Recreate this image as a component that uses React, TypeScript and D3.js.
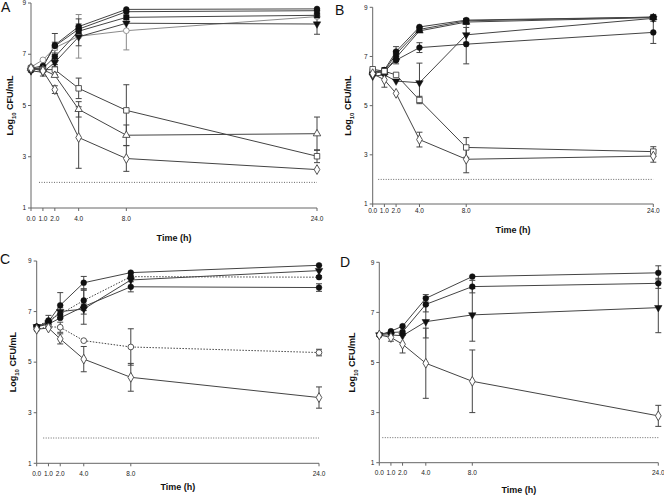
import React from "react";
import * as d3 from "d3";

// ---------- shared data ----------
const TIMES = [0, 1, 2, 4, 8, 24];
const TIME_LABELS = ["0.0", "1.0", "2.0", "4.0", "8.0", "24.0"];
const Y_TICKS = [1, 3, 5, 7, 9];
const LIMIT_OF_DETECTION = 2;

// ---------- panel A ----------
const A_circle = [6.4, 6.5, 7.36, 8.08, 8.75, 8.77];
const A_circleErr = [0.08, 0.1, 0.45, 0.3, 0.05, 0.05];
const A_hex = [6.45, 6.55, 7.32, 7.98, 8.66, 8.7];
const A_hexErr = [0.08, 0.1, 0.15, 0.2, 0.05, 0.05];
const A_square = [6.4, 6.45, 6.9, 7.9, 8.44, 8.52];
const A_squareErr = [0.08, 0.1, 0.15, 0.2, 0.05, 0.05];
const A_triDown = [6.35, 6.3, 6.68, 7.68, 8.21, 8.18];
const A_triDownErr = [0.08, 0.15, 0.15, 0.35, 0.05, 0.4];
const A_grayCircle = [6.5, 6.78, 7.25, 7.7, 7.92, 8.47];
const A_grayCircleErr = [0.08, 0.1, 0.1, 0.85, 0.75, 0.1];
const A_openSquare = [6.45, 6.4, 6.4, 5.67, 4.81, 3.02];
const A_openSquareErr = [0.08, 0.1, 0.2, 0.4, 1.0, 0.25];
const A_openTri = [6.45, 6.4, 6.18, 4.85, 3.84, 3.9];
const A_openTriErr = [0.08, 0.1, 0.1, 0.3, 0.4, 0.65];
const A_openDiamond = [6.45, 6.35, 5.62, 3.75, 2.93, 2.5];
const A_openDiamondErr = [0.08, 0.1, 0.15, 1.2, 0.5, 0.1];

// ---------- panel B ----------
const B_circle = [6.35, 6.45, 7.2, 8.2, 8.48, 8.6];
const B_circleErr = [0.08, 0.1, 0.2, 0.1, 0.1, 0.05];
const B_square = [6.4, 6.4, 7.1, 8.1, 8.45, 8.6];
const B_squareErr = [0.08, 0.1, 0.15, 0.1, 0.1, 0.05];
const B_triUp = [6.4, 6.35, 6.95, 8.04, 8.4, 8.58];
const B_triUpErr = [0.08, 0.1, 0.15, 0.1, 0.1, 0.05];
const B_diamond = [6.3, 6.4, 6.85, 7.36, 7.5, 7.98];
const B_diamondErr = [0.08, 0.15, 0.15, 0.2, 0.8, 0.45];
const B_triDown = [6.2, 6.25, 6.0, 5.93, 7.88, 8.55];
const B_triDownErr = [0.08, 0.1, 0.05, 0.8, 0.3, 0.1];
const B_openSquare = [6.48, 6.4, 6.25, 5.23, 3.3, 3.13];
const B_openSquareErr = [0.05, 0.1, 0.05, 0.15, 0.4, 0.2];
const B_openDiamond = [6.3, 6.05, 5.5, 3.62, 2.82, 2.95];
const B_openDiamondErr = [0.08, 0.3, 0.1, 0.3, 0.55, 0.25];

// ---------- panel C ----------
const C_circle = [6.4, 6.6, 7.25, 8.14, 8.54, 8.83];
const C_circleErr = [0.05, 0.25, 0.5, 0.25, 0.1, 0.05];
const C_triDown = [6.4, 6.55, 7.0, 7.1, 8.25, 8.62];
const C_triDownErr = [0.05, 0.1, 0.15, 0.2, 0.1, 0.2];
const C_dotCircle = [6.4, 6.65, 6.9, 7.44, 8.38, 8.36];
const C_dotCircleErr = [0.05, 0.1, 0.15, 0.4, 0.1, 0.1];
const C_hex = [6.4, 6.5, 6.75, 7.2, 7.98, 7.95];
const C_hexErr = [0.05, 0.1, 0.1, 0.7, 0.2, 0.15];
const C_openCircle = [6.3, 6.4, 6.38, 5.85, 5.6, 5.38];
const C_openCircleErr = [0.05, 0.1, 0.2, 0.1, 0.72, 0.13];
const C_openDiamond = [6.3, 6.35, 5.92, 5.12, 4.4, 3.6];
const C_openDiamondErr = [0.05, 0.1, 0.2, 0.5, 0.55, 0.42];

// ---------- panel D ----------
const D_circle = [6.1, 6.25, 6.45, 7.56, 8.43, 8.58];
const D_circleErr = [0.05, 0.05, 0.05, 0.15, 0.08, 0.28];
const D_diamond = [6.1, 6.2, 6.22, 7.32, 8.03, 8.16];
const D_diamondErr = [0.05, 0.1, 0.1, 0.3, 0.25, 0.2];
const D_triDown = [6.1, 6.1, 6.07, 6.63, 6.9, 7.19];
const D_triDownErr = [0.05, 0.1, 0.1, 0.65, 1.05, 1.0];
const D_openDiamond = [6.1, 6.0, 5.73, 4.97, 4.25, 2.87];
const D_openDiamondErr = [0.05, 0.15, 0.35, 1.4, 1.25, 0.42];

type Shape = "circle" | "square" | "diamond" | "triUp" | "triDown";
interface Series {
  values: number[];
  err: number[];
  shape: Shape;
  filled: boolean;
  color?: string;
  dotted?: boolean;
}
interface Panel {
  letter: string;
  x0: number;
  x1: number;
  yTop: number;
  yBot: number;
  letterX: number;
  letterY: number;
  tickLabelGap: number;
  titleY: number;
  yLabelX: number;
  lodStart: number;
  series: Series[];
}

const DARK = "#444";
const GRAY = "#8a8a8a";

const panels: Panel[] = [
  {
    letter: "A", x0: 31, x1: 317, yTop: 3, yBot: 208, letterX: 1, letterY: 12,
    tickLabelGap: 14, titleY: 241, yLabelX: 13, lodStart: 8,
    series: [
      { values: A_grayCircle, err: A_grayCircleErr, shape: "circle", filled: false, color: GRAY },
      { values: A_circle, err: A_circleErr, shape: "circle", filled: true },
      { values: A_hex, err: A_hexErr, shape: "circle", filled: true },
      { values: A_square, err: A_squareErr, shape: "square", filled: true },
      { values: A_triDown, err: A_triDownErr, shape: "triDown", filled: true },
      { values: A_openSquare, err: A_openSquareErr, shape: "square", filled: false },
      { values: A_openTri, err: A_openTriErr, shape: "triUp", filled: false },
      { values: A_openDiamond, err: A_openDiamondErr, shape: "diamond", filled: false },
    ],
  },
  {
    letter: "B", x0: 372.7, x1: 653.3, yTop: 7.3, yBot: 204, letterX: 335, letterY: 15,
    tickLabelGap: 9.5, titleY: 233, yLabelX: 351, lodStart: 5.5,
    series: [
      { values: B_circle, err: B_circleErr, shape: "circle", filled: true },
      { values: B_square, err: B_squareErr, shape: "square", filled: true },
      { values: B_triUp, err: B_triUpErr, shape: "triUp", filled: true },
      { values: B_diamond, err: B_diamondErr, shape: "circle", filled: true },
      { values: B_triDown, err: B_triDownErr, shape: "triDown", filled: true },
      { values: B_openSquare, err: B_openSquareErr, shape: "square", filled: false },
      { values: B_openDiamond, err: B_openDiamondErr, shape: "diamond", filled: false },
    ],
  },
  {
    letter: "C", x0: 36.7, x1: 319, yTop: 261, yBot: 463.3, letterX: 0, letterY: 264,
    tickLabelGap: 13.5, titleY: 490, yLabelX: 16, lodStart: 6.5,
    series: [
      { values: C_circle, err: C_circleErr, shape: "circle", filled: true },
      { values: C_triDown, err: C_triDownErr, shape: "triDown", filled: true },
      { values: C_dotCircle, err: C_dotCircleErr, shape: "circle", filled: true, dotted: true },
      { values: C_hex, err: C_hexErr, shape: "circle", filled: true },
      { values: C_openCircle, err: C_openCircleErr, shape: "circle", filled: false, dotted: true },
      { values: C_openDiamond, err: C_openDiamondErr, shape: "diamond", filled: false },
    ],
  },
  {
    letter: "D", x0: 379.3, x1: 658.3, yTop: 262.3, yBot: 462.7, letterX: 340, letterY: 267,
    tickLabelGap: 13, titleY: 493, yLabelX: 355, lodStart: 3,
    series: [
      { values: D_circle, err: D_circleErr, shape: "circle", filled: true },
      { values: D_diamond, err: D_diamondErr, shape: "circle", filled: true },
      { values: D_triDown, err: D_triDownErr, shape: "triDown", filled: true },
      { values: D_openDiamond, err: D_openDiamondErr, shape: "diamond", filled: false },
    ],
  },
];

const symbolFor: Record<Shape, d3.SymbolType> = {
  circle: d3.symbolCircle,
  square: d3.symbolSquare,
  diamond: d3.symbolDiamond,
  triUp: d3.symbolTriangle,
  triDown: d3.symbolTriangle,
};
const sizeFor: Record<Shape, number> = {
  circle: 26,
  square: 30,
  diamond: 28,
  triUp: 24,
  triDown: 24,
};

const FONT = "'Liberation Sans', Arial, Helvetica, sans-serif";

function PanelView({ p }: { p: Panel }) {
  const x = d3.scaleLinear().domain([0, 24]).range([p.x0, p.x1]);
  const y = d3.scaleLinear().domain([1, 9]).range([p.yBot, p.yTop]);
  const line = d3
    .line<[number, number]>()
    .x((d) => x(d[0]))
    .y((d) => y(d[1]));
  const midY = (p.yTop + p.yBot) / 2;
  const midX = (p.x0 + p.x1) / 2;
  return (
    <g>
      <text x={p.letterX} y={p.letterY} fontSize={14} fontFamily={FONT} fill="#111">
        {p.letter}
      </text>
      <line x1={p.x0} x2={p.x0} y1={p.yTop} y2={p.yBot} stroke="#666" strokeWidth={1} />
      <line x1={p.x0} x2={p.x1} y1={p.yBot} y2={p.yBot} stroke="#666" strokeWidth={1} />
      {Y_TICKS.map((t) => (
        <g key={"y" + t}>
          <line x1={p.x0 - 3} x2={p.x0} y1={y(t)} y2={y(t)} stroke="#666" />
          <text x={p.x0 - 5} y={y(t) + 2.2} fontSize={6.5} textAnchor="end" fontFamily={FONT} fill="#222">
            {t}
          </text>
        </g>
      ))}
      {TIMES.map((t, i) => (
        <g key={"x" + t}>
          <line x1={x(t)} x2={x(t)} y1={p.yBot} y2={p.yBot + 3} stroke="#666" />
          <text x={x(t)} y={p.yBot + p.tickLabelGap - 1} fontSize={6.5} textAnchor="middle" fontFamily={FONT} fill="#222">
            {TIME_LABELS[i]}
          </text>
        </g>
      ))}
      <text x={midX} y={p.titleY} fontSize={9} fontWeight="bold" textAnchor="middle" fontFamily={FONT} fill="#111">
        Time (h)
      </text>
      <text
        transform={`translate(${p.yLabelX},${midY}) rotate(-90)`}
        fontSize={9}
        fontWeight="bold"
        textAnchor="middle"
        fontFamily={FONT}
        fill="#111"
      >
        Log
        <tspan fontSize={6} dy={2.5}>10</tspan>
        <tspan dy={-2.5}> CFU/mL</tspan>
      </text>
      <line
        x1={p.x0 + p.lodStart}
        x2={p.x1}
        y1={y(LIMIT_OF_DETECTION)}
        y2={y(LIMIT_OF_DETECTION)}
        stroke="#444"
        strokeWidth={0.8}
        strokeDasharray="1,1.5"
      />
      {p.series.map((s, si) => {
        const col = s.color || DARK;
        const pts = TIMES.map((t, i) => [t, s.values[i]] as [number, number]);
        return (
          <g key={"l" + si}>
            <path d={line(pts) || ""} fill="none" stroke={col} strokeWidth={1} strokeDasharray={s.dotted ? "1.5,1.5" : undefined} />
            {TIMES.map((t, i) => {
              const e = s.err[i];
              if (e < 0.12) return null;
              const cx = x(t);
              const yt = y(s.values[i] + e);
              const yb = y(s.values[i] - e);
              return (
                <g key={i} stroke={col} strokeWidth={1}>
                  <line x1={cx} x2={cx} y1={yt} y2={yb} />
                  <line x1={cx - 3} x2={cx + 3} y1={yt} y2={yt} />
                  <line x1={cx - 3} x2={cx + 3} y1={yb} y2={yb} />
                </g>
              );
            })}
          </g>
        );
      })}
      {p.series.map((s, si) => {
        const col = s.color || DARK;
        const path = d3.symbol().type(symbolFor[s.shape]).size(sizeFor[s.shape])() || "";
        return (
          <g key={"m" + si}>
            {TIMES.map((t, i) => (
              <path
                key={i}
                d={path}
                transform={`translate(${x(t)},${y(s.values[i])})${s.shape === "triDown" ? " rotate(180)" : ""}`}
                fill={s.filled ? "#111" : "#fff"}
                stroke={s.filled ? "#111" : col}
                strokeWidth={s.filled ? 0.5 : 0.9}
              />
            ))}
          </g>
        );
      })}
    </g>
  );
}

export default function App() {
  return (
    <svg
      width={664}
      height={495}
      viewBox="0 0 664 495"
      style={{ position: "absolute", left: 0, top: 0, background: "#fff" }}
    >
      <rect width={664} height={495} fill="#fff" />
      {panels.map((p) => (
        <PanelView key={p.letter} p={p} />
      ))}
    </svg>
  );
}
